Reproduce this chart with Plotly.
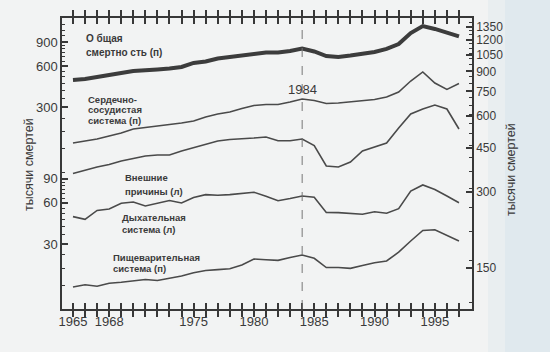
import plotly.graph_objects as go

years = list(range(1965, 1998))

# Right axis (п) series, thousands
total = [833, 840, 856, 868, 888, 904, 908, 917, 925, 938, 973, 986, 1013, 1027, 1046,
         1065, 1070, 1070, 1084, 1109, 1080, 1036, 1027, 1041, 1055, 1075, 1105, 1156,
         1278, 1362, 1326, 1278, 1239]
cardio = [469, 478, 486, 500, 514, 533, 540, 547, 555, 563, 573, 594, 611, 622, 642,
          660, 666, 666, 681, 700, 691, 672, 675, 681, 688, 697, 713, 746, 825, 896,
          810, 764, 806]
digestive = [126.2, 128.8, 127.0, 130.5, 131.7, 133.3, 135.1, 133.9, 136.4, 139.5, 143.8,
             146.7, 147.8, 149.1, 154.2, 162.9, 161.8, 160.9, 165.1, 168.9, 163.9, 150.7,
             150.7, 149.6, 153.5, 157.5, 159.9, 173.3, 191.9, 211.2, 212.7, 202.7, 191.9]
# Left axis (л) series, thousands
external = [98.4, 104.3, 109.8, 114.5, 121.4, 126.6, 132.1, 134.3, 134.3, 143.7, 152.4,
            160.3, 170.0, 174.4, 175.8, 178.8, 181.9, 170.9, 170.9, 175.8, 157.6, 111.6,
            109.8, 119.4, 143.7, 153.7, 164.4, 211.6, 267.9, 291.4, 311.7, 291.4, 208.1]
respiratory = [47.6, 45.5, 52.8, 54.1, 59.6, 60.9, 57.0, 59.6, 62.5, 59.9, 65.7, 68.9,
               68.2, 68.9, 70.1, 71.8, 67.1, 62.2, 64.5, 67.4, 65.9, 51.0, 50.9, 50.4,
               49.6, 51.7, 50.4, 54.4, 73.1, 81.1, 75.2, 67.4, 60.2]

x_ticks = [1965, 1968, 1975, 1980, 1985, 1990, 1995]
x_all_ticks = list(range(1965, 1998))
left_ticks = [30, 60, 90, 300, 600, 900]
right_ticks = [150, 300, 450, 600, 750, 900, 1050, 1200, 1350]
left_minor = [15, 20, 25, 35, 40, 45, 50, 55, 65, 70, 75, 80, 85, 100, 150, 200, 250,
              350, 400, 450, 500, 550, 650, 700, 750, 800, 850, 1000, 1100, 1200]
right_minor = list(range(110, 1450, 50))

line_c = '#4a4a4a'
text_c = '#3a3a3a'
axis_c = '#383838'
font_fam = 'Liberation Sans, Arial, sans-serif'

fig = go.Figure()
fig.add_trace(go.Scatter(x=years, y=total, yaxis='y2', mode='lines',
                         line=dict(color='#3c3c3c', width=4), name='Общая смертность'))
fig.add_trace(go.Scatter(x=years, y=cardio, yaxis='y2', mode='lines',
                         line=dict(color=line_c, width=1.6), name='Сердечно-сосудистая система'))
fig.add_trace(go.Scatter(x=years, y=external, yaxis='y', mode='lines',
                         line=dict(color=line_c, width=1.6), name='Внешние причины'))
fig.add_trace(go.Scatter(x=years, y=respiratory, yaxis='y', mode='lines',
                         line=dict(color=line_c, width=1.6), name='Дыхательная система'))
fig.add_trace(go.Scatter(x=years, y=digestive, yaxis='y2', mode='lines',
                         line=dict(color=line_c, width=1.6), name='Пищеварительная система'))

L, R, T, B = 62, 472, 18, 309


def px(x):
    return (x - L) / (R - L)


def py(y):
    return (B - y) / (B - T)


x_text = [str(v) if v in x_ticks else '' for v in x_all_ticks]

fig.update_layout(
    width=550, height=352,
    margin=dict(l=L, r=550 - R, t=T, b=352 - B),
    paper_bgcolor='#f2f3f3', plot_bgcolor='rgba(0,0,0,0)',
    showlegend=False,
    font=dict(family=font_fam, color=text_c, size=13),
    xaxis=dict(range=[1964.09, 1998.08], tickmode='array', tickvals=x_all_ticks,
               ticktext=x_text, ticks='inside', ticklen=6, tickwidth=1.5,
               tickcolor=axis_c, showline=True, linecolor=axis_c, linewidth=1.5,
               mirror='allticks', showgrid=False, zeroline=False,
               tickfont=dict(size=13, color=text_c)),
    yaxis=dict(type='log', range=[1.0024, 3.1296], tickmode='array', tickvals=left_ticks,
               ticktext=[str(v) for v in left_ticks], ticks='inside', ticklen=6,
               tickwidth=1.5, tickcolor=axis_c, showline=True, linecolor=axis_c,
               linewidth=1.5, showgrid=False, zeroline=False,
               minor=dict(tickmode='array', tickvals=left_minor, ticks='inside', ticklen=3,
                          tickwidth=1.2, tickcolor=axis_c, showgrid=False),
               tickfont=dict(size=13, color=text_c)),
    yaxis2=dict(type='log', range=[2.0139, 3.1659], overlaying='y', side='right',
                tickmode='array', tickvals=right_ticks, ticktext=[str(v) for v in right_ticks],
                ticks='inside', ticklen=6, tickwidth=1.5, tickcolor=axis_c, showline=True,
                linecolor=axis_c, linewidth=1.5, showgrid=False, zeroline=False,
                minor=dict(tickmode='array', tickvals=right_minor, ticks='inside', ticklen=3,
                           tickwidth=1.2, tickcolor=axis_c, showgrid=False),
                tickfont=dict(size=12, color=text_c)),
)

# background tint at the right edge of the scan
fig.add_shape(type='rect', xref='paper', yref='paper', x0=px(488), x1=px(505),
              y0=py(354), y1=py(-2), fillcolor='#e9eef0', line_width=0, layer='below')
fig.add_shape(type='rect', xref='paper', yref='paper', x0=px(505), x1=px(552),
              y0=py(354), y1=py(-2), fillcolor='#e0e9ee', line_width=0, layer='below')

# 1984 dashed line
fig.add_shape(type='line', xref='x', yref='paper', x0=1984, x1=1984, y0=0, y1=1,
              line=dict(color='#777', width=1, dash='dash'))
fig.add_annotation(x=1984, xref='x', y=py(89), yref='paper', text='1984', showarrow=False,
                   font=dict(size=13, color=text_c), xanchor='center', yanchor='middle')

labels = [
    (84, 39, 'О бщая', 10),
    (84, 52, 'смертно сть (п)', 10),
    (86, 99, 'Сердечно-', 9.5),
    (86, 109.5, 'сосудистая', 9.5),
    (86, 120, 'система (п)', 9.5),
    (123, 177.5, 'Внешние', 9.5),
    (123, 191, 'причины (л)', 9.5),
    (120, 217, 'Дыхательная', 9.5),
    (120, 229, 'система (л)', 9.5),
    (111, 257, 'Пищеварительная', 9.5),
    (111, 268, 'система (п)', 9.5),
]
for xx, yy, t, s in labels:
    fig.add_annotation(x=px(xx), y=py(yy), xref='paper', yref='paper', text='<b>' + t + '</b>',
                       showarrow=False, xanchor='left', yanchor='middle',
                       font=dict(size=s, color=text_c))

# axis titles
fig.add_annotation(x=px(20), y=py(165), xref='paper', yref='paper', text='тысячи смертей',
                   textangle=-90, showarrow=False, font=dict(size=12.5, color=text_c))
fig.add_annotation(x=px(520), y=py(170), xref='paper', yref='paper', text='тысячи смертей',
                   textangle=-90, showarrow=False, font=dict(size=12.5, color=text_c))

fig.write_html('out.html')
